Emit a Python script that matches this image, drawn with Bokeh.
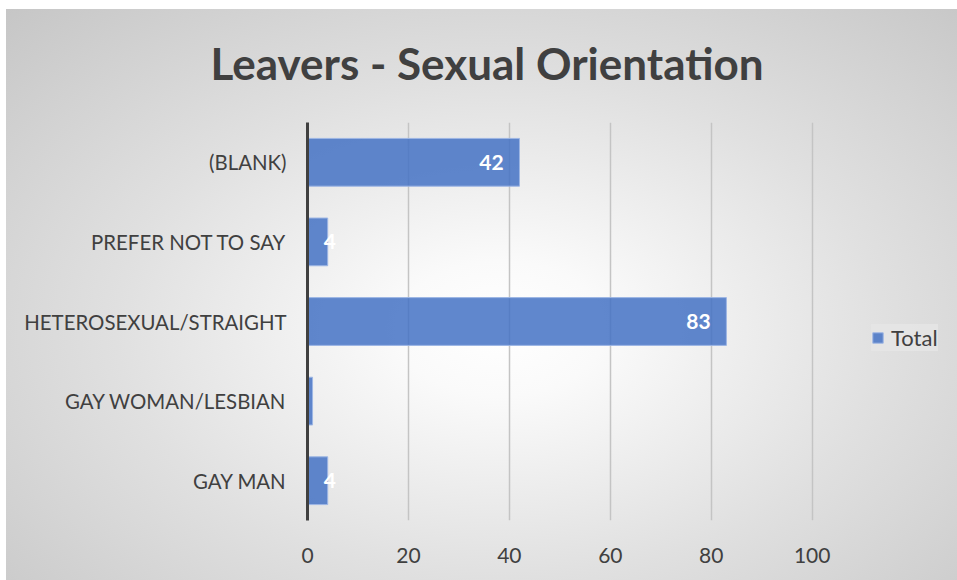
from bokeh.plotting import figure
from bokeh.models import ColumnDataSource, FactorRange, Legend, LegendItem, FixedTicker, Title
from bokeh.core.properties import value
from bokeh.embed import file_html
from bokeh.resources import INLINE

# ---- data ----
categories = ["(BLANK)", "PREFER NOT TO SAY", "HETEROSEXUAL/STRAIGHT", "GAY WOMAN/LESBIAN", "GAY MAN"]
totals = [42, 4, 83, 1, 4]
x_ticks = [0, 20, 40, 60, 80, 100]
title_text = "Leavers - Sexual Orientation"
series_name = "Total"

FONT = "Lato"
TXT = "#404040"

W, H = 957, 580
X_END = 128
p = figure(width=W, height=H, output_backend="svg", toolbar_location=None,
           y_range=FactorRange(factors=list(reversed(categories))),
           x_range=(0, X_END),
           min_border_left=307, min_border_right=4, min_border_top=122, min_border_bottom=60)

p.background_fill_color = None
p.border_fill_color = None
p.outline_line_color = None
p.styles = {
    "background-color": "white",
    "background-image": "radial-gradient(ellipse farthest-corner at 52% 56%, #ffffff 0%, #fafafa 15%, #e0e0e0 55%, #c6c6c6 100%)",
    "background-repeat": "no-repeat",
    "background-position": "6px 9px",
    "background-size": "951px 571px",
}

px_per_unit = 646 / X_END
lab_x_off = []
lab_align = []
lab_text = []
for v in totals:
    bar_px = v * px_per_unit
    if bar_px > 50:
        lab_x_off.append(-28)
        lab_align.append("center")
        lab_text.append(str(v))
    elif bar_px > 10:
        lab_x_off.append(-4)
        lab_align.append("left")
        lab_text.append(str(v))
    else:
        # label of a hair-thin bar is lost (white on white) in the reference
        lab_x_off.append(3)
        lab_align.append("left")
        lab_text.append("")

src = ColumnDataSource(dict(cat=categories, val=totals, lab=lab_text,
                            xo=lab_x_off, al=lab_align))

r = p.hbar(y="cat", right="val", left=0, height=0.6, source=src,
           fill_color="#4472C4", fill_alpha=0.85, line_color="#9db6e4", line_width=1)

p.text(x="val", y="cat", text="lab", source=src, x_offset="xo", text_align="al",
       text_baseline="middle", text_color="white", text_font=value(FONT),
       text_font_size="21px", text_font_style="bold")

# axes
p.xaxis.ticker = FixedTicker(ticks=x_ticks)
p.xaxis.axis_line_color = None
p.xaxis.major_tick_line_color = None
p.xaxis.minor_tick_line_color = None
p.xaxis.major_label_standoff = 21
p.xaxis.major_label_text_font = FONT
p.xaxis.major_label_text_font_size = "21px"
p.xaxis.major_label_text_color = TXT

p.yaxis.axis_line_color = "#404040"
p.yaxis.axis_line_width = 3
p.yaxis.major_tick_line_color = None
p.yaxis.minor_tick_line_color = None
p.yaxis.major_label_standoff = 15
p.yaxis.major_label_text_font = FONT
p.yaxis.major_label_text_font_size = "20.4px"
p.yaxis.major_label_text_color = TXT

p.ygrid.grid_line_color = None
p.xgrid.ticker = FixedTicker(ticks=x_ticks[1:])
p.xgrid.grid_line_color = "#c4c4c4"
p.xgrid.grid_line_width = 1.5

# title
p.add_layout(Title(text=title_text, align="left", offset=-97, vertical_align="bottom",
                   standoff=68, text_font=FONT, text_font_size="44px",
                   text_font_style="bold", text_color=TXT), "above")

legend = Legend(items=[LegendItem(label=series_name, renderers=[r])],
                location=(564, 169), orientation="vertical",
                label_text_font=FONT, label_text_font_size="22px", label_text_color=TXT,
                glyph_width=13, glyph_height=13, label_standoff=7,
                background_fill_color="#e6e6e6", background_fill_alpha=0.8,
                border_line_color=None, padding=12, margin=0)
p.add_layout(legend)

open("out.html", "w").write(file_html(p, INLINE))
